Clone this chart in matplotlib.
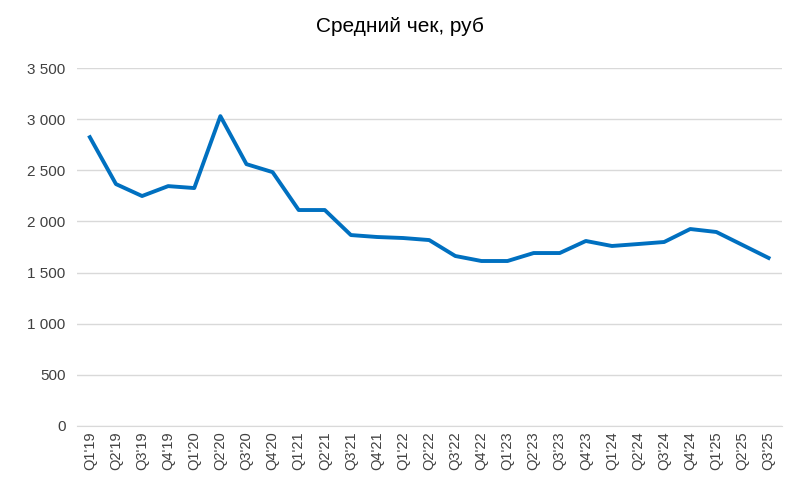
import matplotlib
matplotlib.use("Agg")
import matplotlib.pyplot as plt
from matplotlib.ticker import FuncFormatter, MultipleLocator

plt.rcParams['font.family'] = ['Liberation Sans', 'DejaVu Sans']

quarters = ["Q1'19","Q2'19","Q3'19","Q4'19","Q1'20","Q2'20","Q3'20","Q4'20",
            "Q1'21","Q2'21","Q3'21","Q4'21","Q1'22","Q2'22","Q3'22","Q4'22",
            "Q1'23","Q2'23","Q3'23","Q4'23","Q1'24","Q2'24","Q3'24","Q4'24",
            "Q1'25","Q2'25","Q3'25"]
values = [2825, 2366, 2249, 2346, 2327, 3031, 2561, 2483,
          2112, 2112, 1867, 1848, 1838, 1818, 1662, 1613,
          1613, 1691, 1691, 1809, 1760, 1779, 1799, 1926,
          1897, 1770, 1643]

fig = plt.figure(figsize=(8, 4.98), dpi=100)
ax = fig.add_axes([0.096, 0.145, 0.881, 0.718])
x = list(range(len(quarters)))
ax.plot(x, values, color='#0070C0', linewidth=2.8, solid_joinstyle='round')
ax.set_xlim(-0.5, len(quarters) - 0.5)
ax.set_ylim(0, 3500)
ax.yaxis.set_major_locator(MultipleLocator(500))
ax.yaxis.set_major_formatter(FuncFormatter(lambda v, p: f"{int(v):,}".replace(",", " ")))
ax.grid(axis='y', color='#D9D9D9', linewidth=1)
ax.set_axisbelow(True)
ax.set_xticks(x)
ax.set_xticklabels(quarters, rotation=90, fontsize=10.5, color='#404040')
ax.tick_params(axis='y', labelsize=11, colors='#404040', length=0, pad=8)
ax.tick_params(axis='x', length=0, pad=4)
for s in ['top', 'right', 'left']:
    ax.spines[s].set_visible(False)
ax.spines['bottom'].set_color('#D9D9D9')
fig.suptitle("Средний чек, руб", fontsize=15, y=0.965)
fig.savefig("out.png", dpi=100)
